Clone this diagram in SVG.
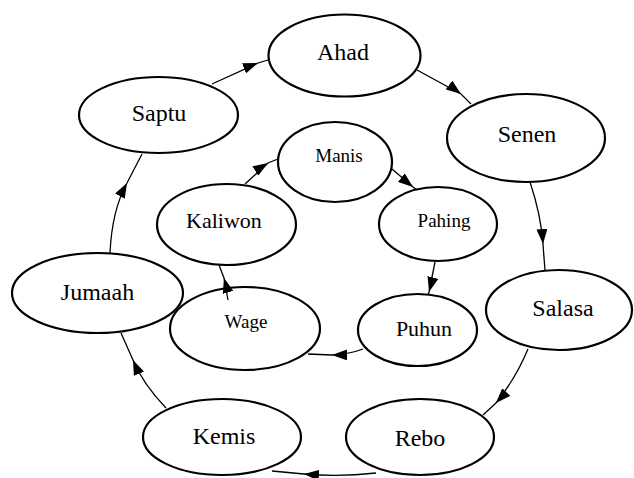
<svg xmlns="http://www.w3.org/2000/svg" width="634" height="478" viewBox="0 0 634 478">
<style>
.n ellipse{fill:#fff;stroke:#000;stroke-width:2.2}
.n text{font-family:"Liberation Serif","Times New Roman",serif;fill:#000;text-anchor:middle}
.o text{font-size:24px}
.c path{fill:none;stroke:#000;stroke-width:1.3;marker-mid:url(#ah)}
</style>
<defs>
<marker id="ah" viewBox="0 0 15 11" refX="15" refY="5.5" markerWidth="15" markerHeight="11" markerUnits="userSpaceOnUse" orient="auto">
<path d="M0,0 L15,5.5 L0,11 z" fill="#000"/>
</marker>
</defs>
<rect width="634" height="478" fill="#fff"/>
<g class="n o" id="ahad"><ellipse cx="344.5" cy="55.5" rx="76" ry="41"/><text x="343" y="60">Ahad</text></g>
<g class="n o" id="senen"><ellipse cx="526" cy="138" rx="79" ry="44"/><text x="527" y="142">Senen</text></g>
<g class="n o" id="salasa"><ellipse cx="559" cy="310" rx="73" ry="40"/><text x="563" y="316">Salasa</text></g>
<g class="n o" id="rebo"><ellipse cx="420" cy="437" rx="74" ry="38"/><text x="420" y="446">Rebo</text></g>
<g class="n o" id="kemis"><ellipse cx="222" cy="437" rx="79" ry="38"/><text x="224" y="444">Kemis</text></g>
<g class="n o" id="jumaah"><ellipse cx="97.5" cy="293" rx="85.5" ry="40"/><text x="97.5" y="300">Jumaah</text></g>
<g class="n o" id="saptu"><ellipse cx="158.5" cy="115" rx="79.5" ry="38"/><text x="159" y="121">Saptu</text></g>
<g class="n" id="manis"><ellipse cx="335" cy="162" rx="57" ry="40"/><text x="339" y="162" font-size="19">Manis</text></g>
<g class="n" id="pahing"><ellipse cx="438" cy="224" rx="59" ry="37"/><text x="444" y="227" font-size="19">Pahing</text></g>
<g class="n" id="puhun"><ellipse cx="417.5" cy="330" rx="59.5" ry="36"/><text x="424" y="336" font-size="22">Puhun</text></g>
<g class="n" id="wage"><ellipse cx="245" cy="328.5" rx="75" ry="41.5"/><text x="246" y="328" font-size="19">Wage</text></g>
<g class="n" id="kaliwon"><ellipse cx="226.5" cy="224.5" rx="69.5" ry="40.5"/><text x="224" y="228" font-size="22">Kaliwon</text></g>
<g class="c" id="connectors">
<path d="M212,84 L258,63 L268,60"/>
<path d="M417,70 L461,94 L471,104"/>
<path d="M530,182 Q541,215 543,244 Q544,258 545,270"/>
<path d="M528,349 Q516,378 496,403 L483,415"/>
<path d="M376,473 Q340,477 304,474 L272,471"/>
<path d="M166,408 Q143,384 133,360 L121,333"/>
<path d="M110,253 Q112,210 127,183 L142,154"/>
<path d="M245,184 L268,163 L278,159"/>
<path d="M392,169 L413,187 L417,190"/>
<path d="M435,262 L429,292 L428,295"/>
<path d="M363,349 Q350,354 332,355 L308,354"/>
<path d="M228,300 L224,278 L219,265"/>
</g>
</svg>
